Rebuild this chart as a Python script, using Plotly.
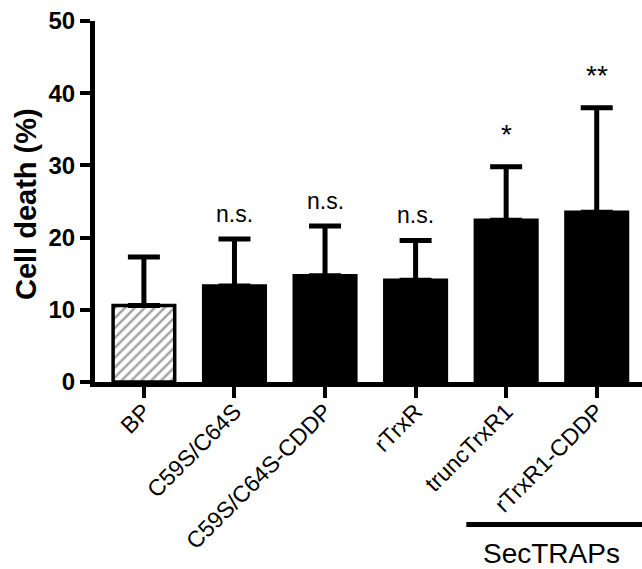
import plotly.graph_objects as go

categories = ["BP", "C59S/C64S", "C59S/C64S-CDDP", "rTrxR", "truncTrxR1", "rTrxR1-CDDP"]
means = [10.6, 13.3, 14.7, 14.1, 22.4, 23.5]
err_upper = [6.7, 6.5, 6.9, 5.5, 7.4, 14.5]
signif = ["", "n.s.", "n.s.", "n.s.", "*", "**"]
y_ticks = [0, 10, 20, 30, 40, 50]

FONT = "Liberation Sans, Arial, sans-serif"

patterns = ["/" if c == "BP" else "" for c in categories]
colors = ["white" if c == "BP" else "black" for c in categories]

fig = go.Figure()
fig.add_trace(go.Bar(
    x=list(range(len(categories))),
    y=means,
    width=0.68,
    marker=dict(
        color=colors,
        line=dict(color="black", width=3.5),
        pattern=dict(shape=patterns, fgcolor="black", bgcolor="white", size=7, solidity=0.35),
    ),
    error_y=dict(type="data", symmetric=False, array=err_upper,
                 arrayminus=[0] * len(means), color="black", thickness=5, width=16),
    showlegend=False,
))

for i, (m, e, s) in enumerate(zip(means, err_upper, signif)):
    if not s:
        continue
    star = s.startswith("*")
    fig.add_annotation(x=i, y=m + e, text=s, showarrow=False, xref="x", yref="y",
                       yanchor="bottom", yshift=15 if star else 10,
                       font=dict(family=FONT, size=28 if star else 23, color="black"))

# SecTRAPs bracket
fig.add_shape(type="line", xref="x", yref="paper", x0=3.56, x1=5.5, y0=-0.395, y1=-0.395,
              line=dict(color="black", width=5))
fig.add_annotation(x=4.5, y=-0.475, xref="x", yref="paper", text="SecTRAPs", showarrow=False,
                   yanchor="middle", font=dict(family=FONT, size=28, color="black"))

# y-axis title
fig.add_annotation(x=(26 - 95) / 547, y=0.493, xref="paper", yref="paper", text="Cell death (%)",
                   textangle=-90, showarrow=False, xanchor="center", yanchor="middle",
                   font=dict(family=FONT, size=29, color="black", weight="bold"))

fig.update_layout(
    width=642, height=569,
    margin=dict(l=95, r=0, t=21, b=187),
    plot_bgcolor="white", paper_bgcolor="white",
    xaxis=dict(
        range=[-0.54, 5.5], tickmode="array", tickvals=list(range(len(categories))),
        ticktext=categories, tickangle=-45, ticks="outside", ticklen=11, tickwidth=4,
        tickcolor="black", showline=True, linewidth=5, linecolor="black",
        showgrid=False, zeroline=False, ticklabelstandoff=-9,
        tickfont=dict(family=FONT, size=23, color="black"),
    ),
    yaxis=dict(
        range=[0, 50], tickmode="array", tickvals=y_ticks, ticks="outside", ticklen=10,
        tickwidth=4, tickcolor="black", showline=True, linewidth=5, linecolor="black",
        showgrid=False, zeroline=False,
        tickfont=dict(family=FONT, size=24, color="black", weight="bold"),
    ),
)

fig.write_html("out.html", config={"displayModeBar": False},
               post_script="document.body.style.margin='0px';")
